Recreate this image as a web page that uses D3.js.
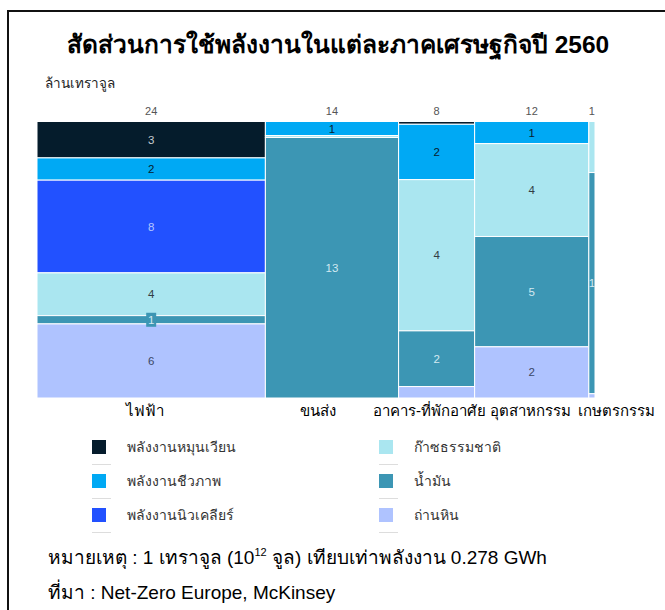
<!DOCTYPE html>
<html lang="th">
<head>
<meta charset="utf-8">
<title>Energy mosaic</title>
<script src="https://d3js.org/d3.v7.min.js"></script>
<style>
  body { margin: 0; background: #fff; }
  text { font-family: "Liberation Sans", Arial, sans-serif; }
</style>
</head>
<body>
<script>
// sectors (columns) and their totals, million TJ
var sectors = ['ไฟฟ้า', 'ขนส่ง', 'อาคาร-ที่พักอาศัย', 'อุตสาหกรรม', 'เกษตรกรรม'];
var totals = [24, 14, 8, 12, 1];

// energy sources, stacked top to bottom
var sources = ['พลังงานหมุนเวียน', 'พลังงานชีวภาพ', 'พลังงานนิวเคลียร์', 'ก๊าซธรรมชาติ', 'น้ำมัน', 'ถ่านหิน'];

// values per sector
var renewable = [3.16, 0, 0.08, 0, 0];
var biomass   = [1.93, 0.71, 1.60, 0.96, 0];
var nuclear   = [8.05, 0, 0, 0, 0];
var gas       = [3.71, 0.10, 4.37, 4.03, 0.12];
var oil       = [0.72, 13.19, 1.61, 4.79, 0.52];
var coal      = [6.43, 0, 0.33, 2.22, 0.01];

var series = [renewable, biomass, nuclear, gas, oil, coal];

var colors = ['#051c2c', '#00a9f4', '#2251ff', '#aae6f0', '#3c96b4', '#afc3ff'];
var labelColors = ['#c5cbd1', '#08202e', '#b4c6ff', '#333d44', '#d3e9f1', '#3b4766'];

var width = 665, height = 610;

var svg = d3.select('body').append('svg')
  .attr('width', width)
  .attr('height', height);

// frame (top and left)
svg.append('path')
  .attr('d', 'M8,' + height + 'V11H' + width)
  .attr('fill', 'none')
  .attr('stroke', '#111')
  .attr('stroke-width', 2);

svg.append('text')
  .attr('x', 338).attr('y', 53)
  .attr('text-anchor', 'middle')
  .attr('font-size', 24.5).attr('font-weight', 'bold')
  .attr('fill', '#000')
  .text('สัดส่วนการใช้พลังงานในแต่ละภาคเศรษฐกิจปี 2560');

svg.append('text')
  .attr('x', 45).attr('y', 88)
  .attr('font-size', 13.5)
  .attr('fill', '#222')
  .text('ล้านเทราจูล');

// column layout
var sums = sectors.map(function(d, i) { return d3.sum(series, function(s) { return s[i]; }); });
var starts = [0];
sums.forEach(function(s, i) { starts.push(starts[i] + s); });

var x = d3.scaleLinear().domain([0, d3.sum(sums)]).range([37, 595]);
var chartTop = 121.5, chartBottom = 398;

var chart = svg.append('g');

sectors.forEach(function(sec, i) {
  var y = d3.scaleLinear().domain([0, sums[i]]).range([chartTop, chartBottom]);
  var cells = [];
  var acc = 0;
  series.forEach(function(s, k) {
    if (s[i] > 0) cells.push({ k: k, v: s[i], y0: acc, y1: acc + s[i] });
    acc += s[i];
  });

  var col = chart.append('g');
  col.selectAll('rect')
    .data(cells)
    .enter().append('rect')
    .attr('x', x(starts[i]))
    .attr('width', x(starts[i + 1]) - x(starts[i]))
    .attr('y', function(d) { return y(d.y0); })
    .attr('height', function(d) { return y(d.y1) - y(d.y0); })
    .attr('fill', function(d) { return colors[d.k]; })
    .attr('stroke', '#fff')
    .attr('stroke-width', 1);

  var cx = (x(starts[i]) + x(starts[i + 1])) / 2;

  var labeled = cells.filter(function(d) { return Math.round(d.v) >= 1; });
  labeled.forEach(function(d) {
    var cy = (y(d.y0) + y(d.y1)) / 2;
    var h = y(d.y1) - y(d.y0);
    if (h < 12) {
      col.append('rect')
        .attr('x', cx - 5).attr('y', cy - 7)
        .attr('width', 10).attr('height', 14)
        .attr('fill', colors[d.k]);
    }
    col.append('text')
      .attr('x', cx).attr('y', cy)
      .attr('dy', '0.35em')
      .attr('text-anchor', 'middle')
      .attr('font-size', 11.5)
      .attr('fill', labelColors[d.k])
      .text(Math.round(d.v));
  });

  // total on top
  chart.append('text')
    .attr('x', cx).attr('y', 111)
    .attr('dy', '0.35em')
    .attr('text-anchor', 'middle')
    .attr('font-size', 11)
    .attr('fill', '#555')
    .text(totals[i]);
});

// sector names below, nudged apart like the original
var nudge = [-6, -14, -7, -1, 25];
sectors.forEach(function(sec, i) {
  var cx = (x(starts[i]) + x(starts[i + 1])) / 2;
  svg.append('text')
    .attr('x', cx + nudge[i]).attr('y', 416)
    .attr('text-anchor', 'middle')
    .attr('font-size', 15)
    .attr('fill', '#000')
    .text(sec);
});

// legend: two columns of three
var legend = svg.append('g');
sources.forEach(function(s, k) {
  var colx = k < 3 ? 92 : 379;
  var ry = 440 + (k % 3) * 34;
  var g = legend.append('g').attr('transform', 'translate(' + colx + ',' + ry + ')');
  g.append('rect')
    .attr('width', 14).attr('height', 14)
    .attr('fill', colors[k]);
  g.append('text')
    .attr('x', 35).attr('y', 7)
    .attr('dy', '0.35em')
    .attr('font-size', 14)
    .attr('fill', '#333')
    .text(s);
  g.append('line')
    .attr('x1', 0).attr('x2', 19)
    .attr('y1', 24.5).attr('y2', 24.5)
    .attr('stroke', '#ddd');
});

var note = svg.append('text')
  .attr('x', 48).attr('y', 564)
  .attr('font-size', 19)
  .attr('fill', '#000');
note.append('tspan').text('หมายเหตุ : 1 เทราจูล (10');
note.append('tspan').attr('font-size', 11).attr('dy', -8).text('12');
note.append('tspan').attr('dy', 8).text(' จูล) เทียบเท่าพลังงาน 0.278 GWh');

svg.append('text')
  .attr('x', 48).attr('y', 599)
  .attr('font-size', 19)
  .attr('fill', '#000')
  .text('ที่มา : Net-Zero Europe, McKinsey');
</script>
</body>
</html>
